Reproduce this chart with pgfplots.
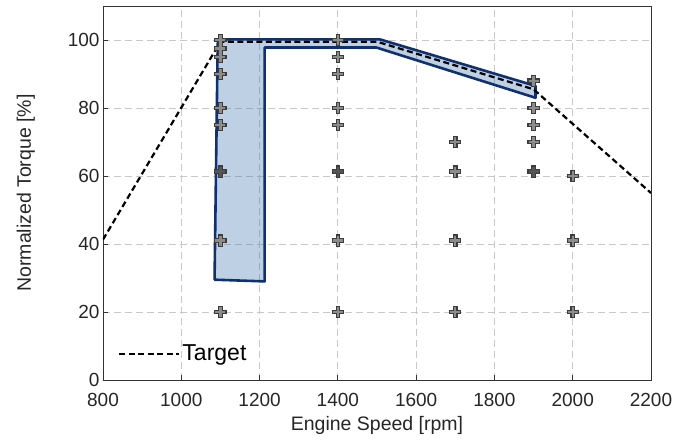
\documentclass[border=0pt]{standalone}
\usepackage{fontspec}
\setmainfont{Liberation Sans}
\usepackage{pgfplots}
\pgfplotsset{compat=1.18}
\definecolor{edgeblue}{RGB}{16,48,110}
\definecolor{fillblue}{RGB}{70,120,175}
\definecolor{gridgray}{RGB}{200,200,200}
\definecolor{markout}{RGB}{60,60,60}
\definecolor{markin}{RGB}{140,140,140}
\definecolor{markindark}{RGB}{85,85,85}
\begin{document}
\begin{tikzpicture}
\begin{axis}[
  scale only axis,
  width=548pt, height=374pt,
  xmin=800, xmax=2200, ymin=0, ymax=110,
  xtick={800,1000,...,2200},
  ytick={0,20,...,100},
  tick align=inside,
  xtick pos=left, ytick pos=left,
  major tick length=5pt,
  axis line style={black!80, line width=0.8pt},
  tick style={black!80, line width=0.8pt},
  grid=major,
  major grid style={gridgray, dash pattern=on 7pt off 4pt, line width=0.9pt},
  /pgf/number format/assume math mode=true,
  /pgf/number format/1000 sep={},
  tick label style={font=\fontsize{19}{22}\selectfont, text=black!85},
  xticklabel style={yshift=-10pt},
  xlabel={Engine Speed [rpm]},
  ylabel={Normalized Torque [\%]},
  label style={font=\fontsize{19.5}{22}\selectfont, text=black!85},
  xlabel style={at={(axis description cs:0.5,-0.122)}, anchor=center},
  ylabel style={at={(axis description cs:-0.141,0.5)}, anchor=center},
  legend style={draw=none, fill=none, at={(axis description cs:0.022,0.07)}, anchor=west,
    font=\fontsize{23}{26}\selectfont, legend cell align=left},
  legend image code/.code={\draw[#1] (0pt,0pt) -- (47pt,0pt); \path (0pt,0pt) -- (60pt,0pt);},
]
% markers: outline
\addplot[only marks, mark=+, mark size=6.2pt, line width=4.6pt, color=markout, forget plot] coordinates {
 (1100,100) (1100,97.5) (1100,95) (1100,90) (1100,80) (1100,75) (1100,61.3) (1100,41) (1100,20)
 (1400,100) (1400,95) (1400,90) (1400,80) (1400,75) (1400,61.3) (1400,41) (1400,20)
 (1700,70) (1700,61.3) (1700,41) (1700,20)
 (1900,88) (1900,80) (1900,75) (1900,70) (1900,61.3)
 (2000,60) (2000,41) (2000,20)
};
% markers: fill
\addplot[only marks, mark=+, mark size=5pt, line width=2.4pt, color=markin, forget plot] coordinates {
 (1100,100) (1100,97.5) (1100,95) (1100,90) (1100,80) (1100,75) (1100,41) (1100,20)
 (1400,100) (1400,95) (1400,90) (1400,80) (1400,75) (1400,41) (1400,20)
 (1700,70) (1700,61.3) (1700,41) (1700,20)
 (1900,88) (1900,80) (1900,75) (1900,70)
 (2000,60) (2000,41) (2000,20)
};
% overlapping (repeated) markers appear darker
\addplot[only marks, mark=+, mark size=5pt, line width=2.4pt, color=markindark, forget plot] coordinates {
 (1100,61.3) (1400,61.3) (1900,61.3)
};
% operating region
\addplot[draw=edgeblue, line width=2.6pt, fill=fillblue, fill opacity=0.35, line join=round, forget plot] coordinates {
 (1085,29.5) (1093,99) (1103,100.2) (1507,100.2) (1905,86.5) (1905,83) (1498,97.8) (1213,97.8) (1213,29) (1085,29.5)
} -- cycle;
% target
\addplot[black, line width=2.2pt, dash pattern=on 6pt off 3.5pt] coordinates {
 (800,41.3) (1100,99.5) (1500,99.5) (1900,85.5) (2200,55)
};
\addlegendentry{Target}
\end{axis}
\path (-103pt,-62pt) rectangle (585pt,380pt);
\end{tikzpicture}
\end{document}
